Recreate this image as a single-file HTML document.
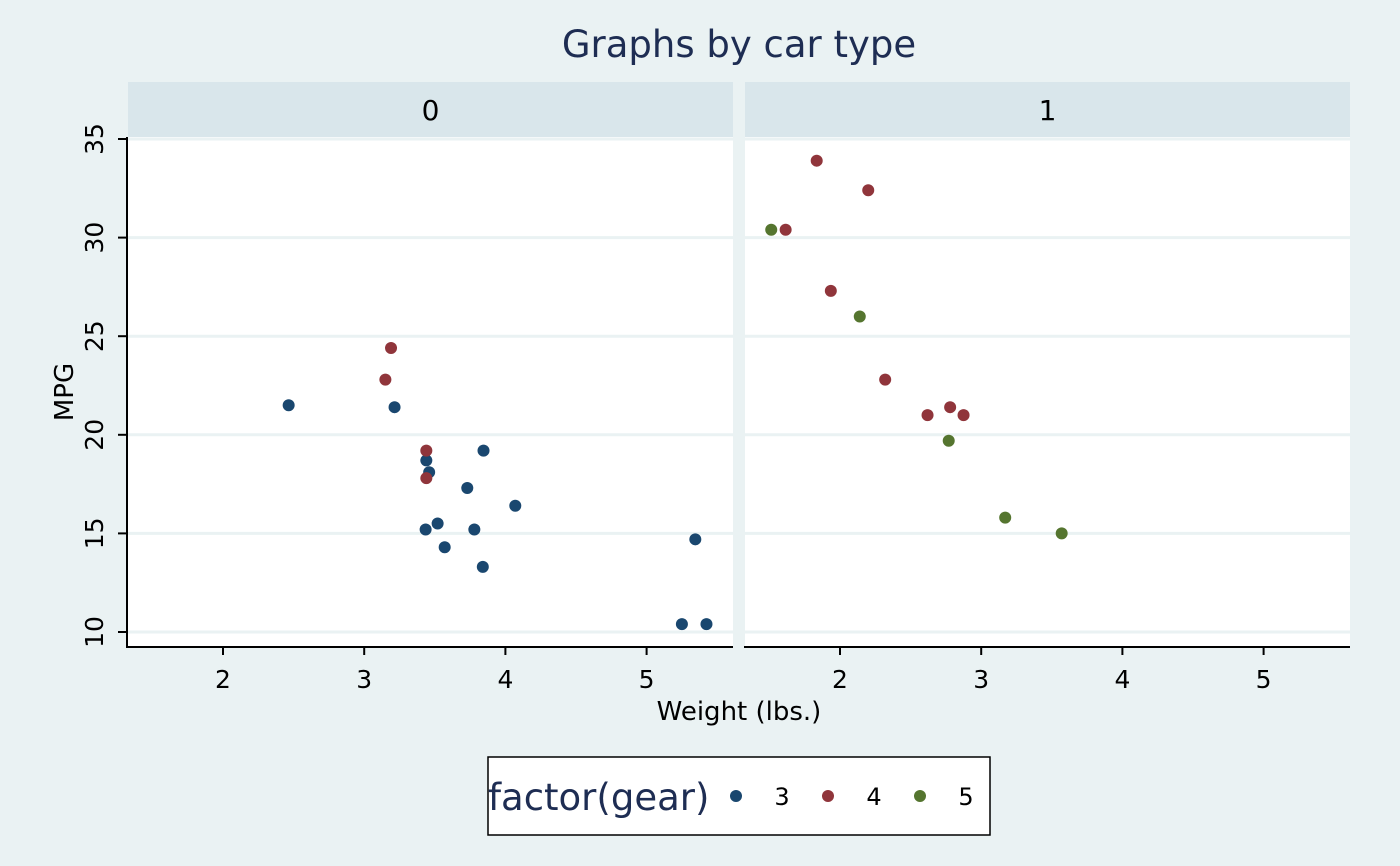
<!DOCTYPE html>
<html><head><meta charset="utf-8"><style>
body{margin:0;background:#eaf2f3;}
svg{display:block;font-family:"DejaVu Sans","Liberation Sans",sans-serif;}
</style></head><body>
<svg id="c" width="1400" height="866" xmlns="http://www.w3.org/2000/svg">
<rect width="1400" height="866" fill="#eaf2f3"/>
<text x="739" y="57" font-size="37" fill="#1e2d53" text-anchor="middle">Graphs by car type</text>
<g id="g"></g>
</svg>
<script>
const panels=["0","1"];
const wt0=[3.215,3.44,3.46,3.57,3.19,3.15,3.44,3.44,4.07,3.73,3.78,5.25,5.424,5.345,2.465,3.52,3.435,3.84,3.845];
const mpg0=[21.4,18.7,18.1,14.3,24.4,22.8,19.2,17.8,16.4,17.3,15.2,10.4,10.4,14.7,21.5,15.5,15.2,13.3,19.2];
const gear0=[3,3,3,3,4,4,4,4,3,3,3,3,3,3,3,3,3,3,3];
const wt1=[2.62,2.875,2.32,2.2,1.615,1.835,1.935,2.14,1.513,3.17,2.77,3.57,2.78];
const mpg1=[21.0,21.0,22.8,32.4,30.4,33.9,27.3,26.0,30.4,15.8,19.7,15.0,21.4];
const gear1=[4,4,4,4,4,4,4,5,5,5,5,5,4];
const xTicks=[2,3,4,5];
const yTicks=[10,15,20,25,30,35];
const gears=[3,4,5];
const colors={3:"#1a476f",4:"#90353b",5:"#55752f"};
const NS="http://www.w3.org/2000/svg";
const g=document.getElementById('g');
function el(t,a,p){const e=document.createElementNS(NS,t);for(const k in a)e.setAttribute(k,a[k]);(p||g).appendChild(e);return e;}
const panelX=[128,745], pw=605, plotTop=137, plotBot=647;
const y=v=>632+(v-10)*(139-632)/25;
const data=[[wt0,mpg0,gear0],[wt1,mpg1,gear1]];
panels.forEach((p,i)=>{
  const x0=panelX[i];
  const x=v=>x0+95+(v-2)*141.2;
  const bg=el('rect',{x:x0,y:plotTop,width:pw,height:plotBot-plotTop,fill:"#fff"});
  
  
  const st=el('rect',{x:x0,y:82,width:pw,height:55,fill:"#d9e6eb"});
  
  
  const stt=el('text',{x:x0+pw/2,y:120,'font-size':28,'text-anchor':'middle',fill:'#000'});
  stt.textContent=p;
  
  
  yTicks.forEach(t=>{
    const l=el('line',{x1:x0,x2:x0+pw,y1:y(t),y2:y(t),stroke:"#eaf2f3","stroke-width":3});
    
    
  });
  el('line',{x1:x0-1,x2:x0+pw,y1:plotBot,y2:plotBot,stroke:"#000","stroke-width":2});
  xTicks.forEach(t=>{
    el('line',{x1:x(t),x2:x(t),y1:plotBot,y2:plotBot+8,stroke:"#000","stroke-width":2});
    const tx=el('text',{x:x(t),y:plotBot+41,'font-size':25,'text-anchor':'middle'});
    tx.textContent=t;
    
    
  });
  const [ws,ms,gs]=data[i];
  ws.forEach((w,j)=>{
    const c=el('circle',{cx:x(w),cy:y(ms[j]),r:6,fill:colors[gs[j]]});
    
    
  });
});
el('line',{x1:127,x2:127,y1:plotTop,y2:plotBot+1,stroke:"#000","stroke-width":2});
yTicks.forEach(t=>{
  el('line',{x1:118,x2:127,y1:y(t),y2:y(t),stroke:"#000","stroke-width":2});
  const tx=el('text',{x:0,y:0,'font-size':25,'text-anchor':'middle',transform:`translate(103,${y(t)}) rotate(-90)`});
  tx.textContent=t;
  
  
});
const yt=el('text',{x:0,y:0,'font-size':26,'text-anchor':'middle',transform:'translate(73,392) rotate(-90)'});
yt.textContent='MPG';


const xt=el('text',{x:739,y:720,'font-size':26,'text-anchor':'middle'});
xt.textContent='Weight (lbs.)';


const lb=el('rect',{x:488,y:757,width:502,height:78,fill:'#fff',stroke:'#000','stroke-width':1.5});


const lt=el('text',{x:488,y:810,'font-size':37,fill:'#1e2d53'});
lt.textContent='factor(gear)';


gears.forEach((gr,k)=>{
  const cx=736+k*92;
  const c=el('circle',{cx:cx,cy:796,r:6,fill:colors[gr]});
  
  
  const t=el('text',{x:cx+46,y:805,'font-size':24,'text-anchor':'middle'});
  t.textContent=gr;
  
  
});
</script>
</body></html>
